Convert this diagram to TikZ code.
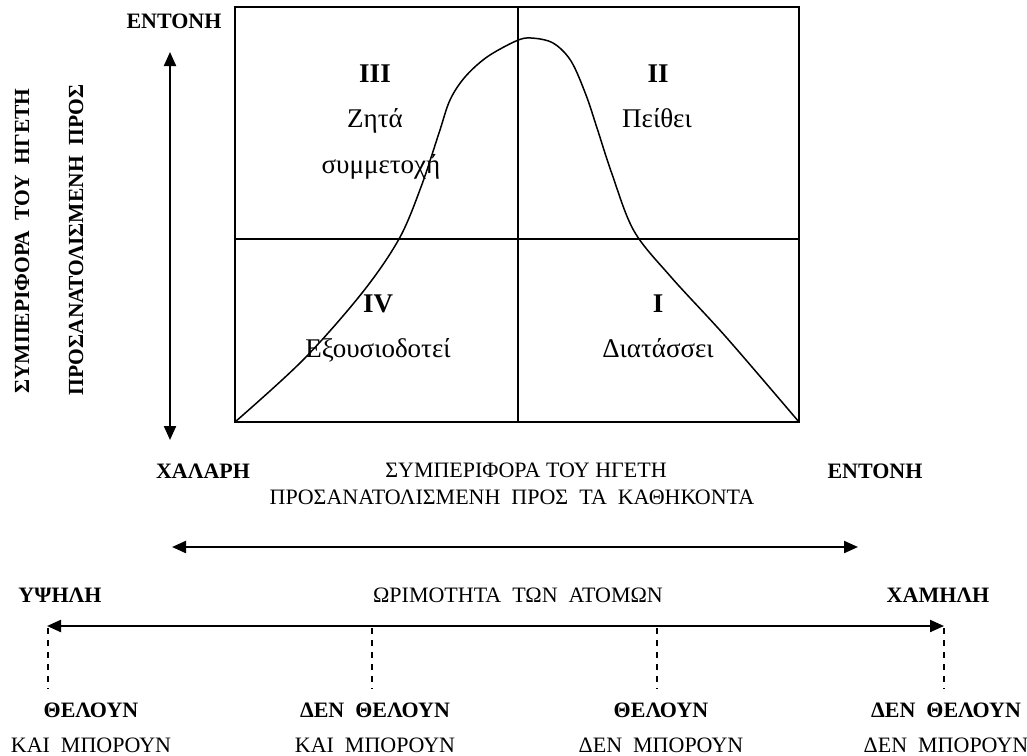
\documentclass[tikz,border=0pt]{standalone}
\usepackage{fontspec}
\setmainfont{Liberation Serif}
\usetikzlibrary{arrows.meta}

\begin{document}
\begin{tikzpicture}[x=1pt,y=-1pt,
  lbl/.style={inner sep=0pt, font=\fontsize{22}{26}\selectfont},
  blbl/.style={inner sep=0pt, font=\fontsize{22}{26}\selectfont\bfseries},
  rlbl/.style={inner sep=0pt, rotate=90, font=\fontsize{21.5}{26}\selectfont\bfseries},
  qlbl/.style={inner sep=0pt, anchor=base, font=\fontsize{27}{31}\selectfont},
  qblbl/.style={inner sep=0pt, anchor=base, font=\fontsize{27}{31}\selectfont\bfseries},
  quad/.style={line width=1.6pt},
  bothway/.style={{Triangle[length=14pt,width=12pt]}-{Triangle[length=14pt,width=12pt]}, line width=2.2pt},
  guide/.style={line width=1.2pt, dash pattern=on 6pt off 6pt}
]
\useasboundingbox (0,0) rectangle (1027,755);
\fill[white] (0,0) rectangle (1027,755);

% the four-quadrant grid
\coordinate (tl) at (235,7);
\coordinate (br) at (799,422);
\draw[quad] (tl) rectangle (br);
\draw[quad] (518,7) -- (518,422);
\draw[quad] (235,239) -- (799,239);

% the bell-shaped style curve
\draw[line width=1.5pt] plot[smooth, tension=0.55] coordinates {
  (235,422) (303,360) (362,293) (399,239) (421,187) (439,133) (450,100)
  (465,77) (487,57) (516,41) (531,38) (553,43) (571,61) (586,95)
  (597,128) (612,174) (634,231) (671,277) (726,337) (799,422)};

% quadrant labels (base lines)
\node[qblbl] (q3) at (375,82) {III};
\node[qlbl]  (q3a) at (375,127) {Ζητά};
\node[qlbl]  (q3b) at (381,173) {συμμετοχή};
\node[qblbl] (q2) at (658,82) {II};
\node[qlbl]  (q2a) at (657,127) {Πείθει};
\node[qblbl] (q4) at (378,312) {IV};
\node[qlbl]  (q4a) at (378,357) {Εξουσιοδοτεί};
\node[qblbl] (q1) at (658,312) {I};
\node[qlbl]  (q1a) at (658,357) {Διατάσσει};

% vertical axis
\node[blbl] (vtop) at (174,21) {ΕΝΤΟΝΗ};
\coordinate (vup) at (170,52);
\coordinate (vdn) at (170,440);
\draw[bothway] (vdn) -- (vup);
\node[rlbl] (vt1) at (22,241) {ΣΥΜΠΕΡΙΦΟΡΑ~~ΤΟΥ~~ΗΓΕΤΗ};
\node[rlbl] (vt2) at (76,240) {ΠΡΟΣΑΝΑΤΟΛΙΣΜΕΝΗ~~ΠΡΟΣ};

% horizontal axis: task behaviour
\node[blbl] (hlo) at (203,471) {ΧΑΛΑΡΗ};
\node[lbl]  (ht1) at (526,470) {ΣΥΜΠΕΡΙΦΟΡΑ ΤΟΥ ΗΓΕΤΗ};
\node[lbl]  (ht2) at (512,497) {ΠΡΟΣΑΝΑΤΟΛΙΣΜΕΝΗ~~ΠΡΟΣ~~ΤΑ~~ΚΑΘΗΚΟΝΤΑ};
\node[blbl] (hhi) at (875,471) {ΕΝΤΟΝΗ};
\coordinate (ha) at (172,547);
\coordinate (hb) at (858,547);
\draw[bothway] (ha) -- (hb);

% maturity axis
\node[blbl] (mhi) at (60,595) {ΥΨΗΛΗ};
\node[lbl]  (mt) at (518,595) {ΩΡΙΜΟΤΗΤΑ~~ΤΩΝ~~ΑΤΟΜΩΝ};
\node[blbl] (mlo) at (938,595) {ΧΑΜΗΛΗ};
\coordinate (ma) at (47,626);
\coordinate (mb) at (944,626);
\draw[bothway] (ma) -- (mb);

% maturity levels
\foreach \x/\n in {48/m1, 372/m2, 657/m3, 944/m4}{
  \coordinate (\n top) at (\x,628);
  \coordinate (\n bot) at (\x,689);
  \draw[guide] (\n top) -- (\n bot);
}
\node[blbl] (w1) at (91,710) {ΘΕΛΟΥΝ};
\node[lbl]  (c1) at (91,745) {ΚΑΙ~~ΜΠΟΡΟΥΝ};
\node[blbl] (w2) at (375,710) {ΔΕΝ~~ΘΕΛΟΥΝ};
\node[lbl]  (c2) at (375,745) {ΚΑΙ~~ΜΠΟΡΟΥΝ};
\node[blbl] (w3) at (661,710) {ΘΕΛΟΥΝ};
\node[lbl]  (c3) at (661,745) {ΔΕΝ~~ΜΠΟΡΟΥΝ};
\node[blbl] (w4) at (946,710) {ΔΕΝ~~ΘΕΛΟΥΝ};
\node[lbl]  (c4) at (946,745) {ΔΕΝ~~ΜΠΟΡΟΥΝ};
\end{tikzpicture}
\end{document}
